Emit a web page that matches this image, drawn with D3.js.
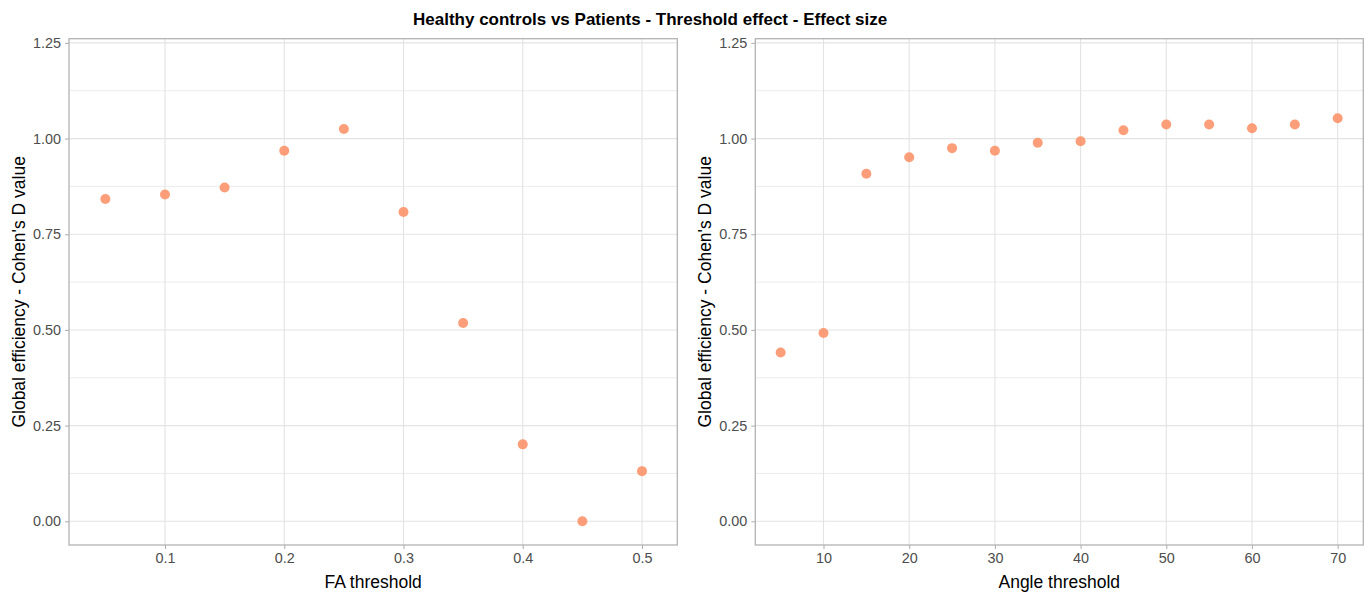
<!DOCTYPE html>
<html>
<head>
<meta charset="utf-8">
<script src="https://cdn.jsdelivr.net/npm/d3@7"></script>
<style>
  body{margin:0;background:#fff;}
  svg{display:block;font-family:"Liberation Sans",Arial,sans-serif;}
</style>
</head>
<body>
<script>
// data
var faThreshold=[0.05,0.1,0.15,0.2,0.25,0.3,0.35,0.4,0.45,0.5]
var faCohenD=[0.842,0.854,0.872,0.968,1.025,0.808,0.518,0.201,0.0,0.131]
var angleThreshold=[5,10,15,20,25,30,35,40,45,50,55,60,65,70]
var angleCohenD=[0.441,0.492,0.908,0.951,0.975,0.968,0.989,0.993,1.022,1.037,1.037,1.027,1.037,1.053]
var yTicks=[0,0.25,0.5,0.75,1.0,1.25]
var yMinor=[0.125,0.375,0.625,0.875,1.125]
var faTicks=[0.1,0.2,0.3,0.4,0.5]
var angleTicks=[10,20,30,40,50,60,70]

var title="Healthy controls vs Patients - Threshold effect - Effect size"
var yTitle="Global efficiency - Cohen's D value"

var screen={width:1368,height:593}
var svg=d3.select("body").append("svg").attr("width",screen.width).attr("height",screen.height)

svg.append("text")
   .text(title)
   .attr("x",413)
   .attr("y",25)
   .style("font-weight","bold")
   .style("font-size","17px")
   .style("fill","#000")

var drawPanel=function(xs,ys,opts){
  var left=opts.left,right=opts.right,top=38.7,bottom=545
  var xScale=d3.scaleLinear().domain(opts.xDomain).range([left,right])
  var yScale=d3.scaleLinear().domain([-0.062,1.261]).range([bottom,top])
  var g=svg.append("g")
  // minor grid
  g.append("g").selectAll("line")
   .data(yMinor)
   .enter()
   .append("line")
   .attr("x1",left).attr("x2",right)
   .attr("y1",function(d){return yScale(d)})
   .attr("y2",function(d){return yScale(d)})
   .style("stroke","#ececec")
   .style("stroke-width",1)
  // major grid
  g.append("g").selectAll("line")
   .data(yTicks)
   .enter()
   .append("line")
   .attr("x1",left).attr("x2",right)
   .attr("y1",function(d){return yScale(d)})
   .attr("y2",function(d){return yScale(d)})
   .style("stroke","#e3e3e3")
   .style("stroke-width",1.1)
  g.append("g").selectAll("line")
   .data(opts.xTicks)
   .enter()
   .append("line")
   .attr("y1",top).attr("y2",bottom)
   .attr("x1",function(d){return xScale(d)})
   .attr("x2",function(d){return xScale(d)})
   .style("stroke","#e3e3e3")
   .style("stroke-width",1.1)
  // points
  g.append("g").selectAll("circle")
   .data(xs)
   .enter()
   .append("circle")
   .attr("cx",function(d){return xScale(d)})
   .attr("cy",function(d,i){return yScale(ys[i])})
   .attr("r",5)
   .style("fill","#FC8D62")
   .style("opacity",0.85)
  // border
  g.append("rect")
   .attr("x",left).attr("y",top)
   .attr("width",right-left).attr("height",bottom-top)
   .style("fill","none")
   .style("stroke","#b3b3b3")
   .style("stroke-width",1.3)
  // axes
  var xAxis=d3.axisBottom(xScale).tickValues(opts.xTicks).tickSize(4).tickPadding(4)
    .tickFormat(opts.xFormat)
  var xg=g.append("g").attr("transform","translate(0,"+bottom+")").call(xAxis)
  var yAxis=d3.axisLeft(yScale).tickValues(yTicks).tickSize(4).tickPadding(4)
    .tickFormat(d3.format(".2f"))
  var yg=g.append("g").attr("transform","translate("+left+",0)").call(yAxis)
  ;[xg,yg].forEach(function(a){
    a.select(".domain").remove()
    a.selectAll(".tick line").style("stroke","#b3b3b3").style("stroke-width",1.1)
    a.selectAll(".tick text").style("fill","#4d4d4d").style("font-size","14.4px")
      .style("font-family","'Liberation Sans',Arial,sans-serif")
  })
  g.append("text")
   .text(opts.xTitle)
   .attr("x",(left+right)/2)
   .attr("y",588)
   .attr("text-anchor","middle")
   .style("font-size","17.5px")
   .style("fill","#000")
  g.append("text")
   .text(yTitle)
   .attr("transform","translate("+(left-44)+","+((top+bottom)/2)+") rotate(-90)")
   .attr("text-anchor","middle")
   .style("font-size","17.5px")
   .style("fill","#000")
}

drawPanel(faThreshold,faCohenD,{left:69,right:677.3,xDomain:[0.0195,0.5296],
  xTicks:faTicks,xFormat:d3.format(".1f"),xTitle:"FA threshold"})
drawPanel(angleThreshold,angleCohenD,{left:755.3,right:1363.3,xDomain:[2.04,72.99],
  xTicks:angleTicks,xFormat:d3.format("d"),xTitle:"Angle threshold"})
</script>
</body>
</html>
